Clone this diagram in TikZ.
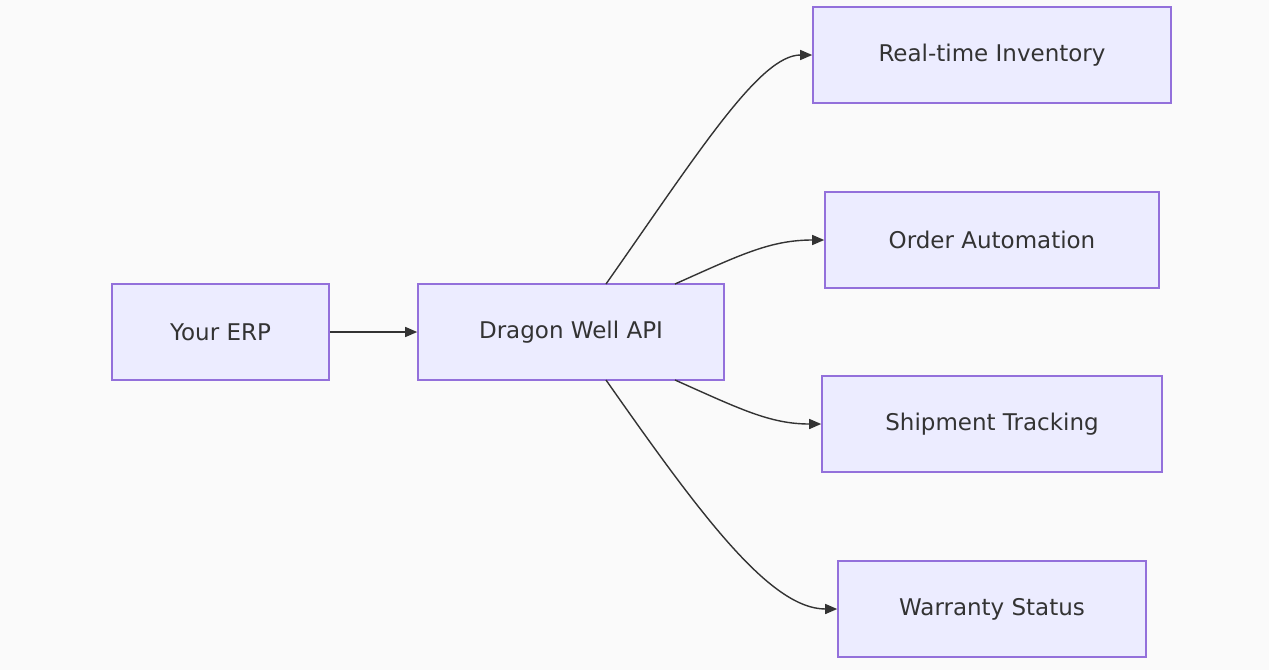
\documentclass[tikz,border=0pt]{standalone}
\usepackage{fontspec}
\setmainfont{DejaVu Sans}
\usetikzlibrary{arrows.meta}
\definecolor{boxfill}{HTML}{ECECFF}
\definecolor{boxline}{HTML}{9370DB}
\definecolor{inkcol}{HTML}{333333}
\tikzset{
  box/.style={draw=boxline, fill=boxfill, line width=0.8pt, minimum height=48pt, text=inkcol, font=\fontsize{11.5}{13}\selectfont},
  link/.style={draw=inkcol, line width=0.7pt, -{Triangle[length=6pt,width=5pt]}}
}
\begin{document}
\begin{tikzpicture}[x=0.5pt,y=-0.5pt]
  % Background and bounds
  \fill[white!98!black] (0,0) rectangle (1269,670);
  \useasboundingbox (0,0) rectangle (1269,670);

  % Boxes
  \node[box, minimum width=108.5pt] (erp) at (220.5,332) {Your ERP};
  \node[box, minimum width=153pt] (api) at (571,332) {Dragon Well API};
  \node[box, minimum width=179pt] (inv) at (992,55) {Real-time Inventory};
  \node[box, minimum width=167pt] (ord) at (992,240) {Order Automation};
  \node[box, minimum width=170pt] (shp) at (992,424) {Shipment Tracking};
  \node[box, minimum width=154pt] (war) at (992,609) {Warranty Status};

  % Start points on the API box
  \coordinate (apiNW) at (606,284);
  \coordinate (apiNE) at (675,284);
  \coordinate (apiSE) at (675,380);
  \coordinate (apiSW) at (606,380);

  % Connectors
  \draw[link] (erp) -- (api);
  \draw[link] (apiNW) .. controls (700,150) and (760,55) .. (inv.west);
  \draw[link] (apiNE) .. controls (740,255) and (770,240) .. (ord.west);
  \draw[link] (apiSE) .. controls (740,409) and (770,424) .. (shp.west);
  \draw[link] (apiSW) .. controls (700,514) and (770,609) .. (war.west);
\end{tikzpicture}
\end{document}
